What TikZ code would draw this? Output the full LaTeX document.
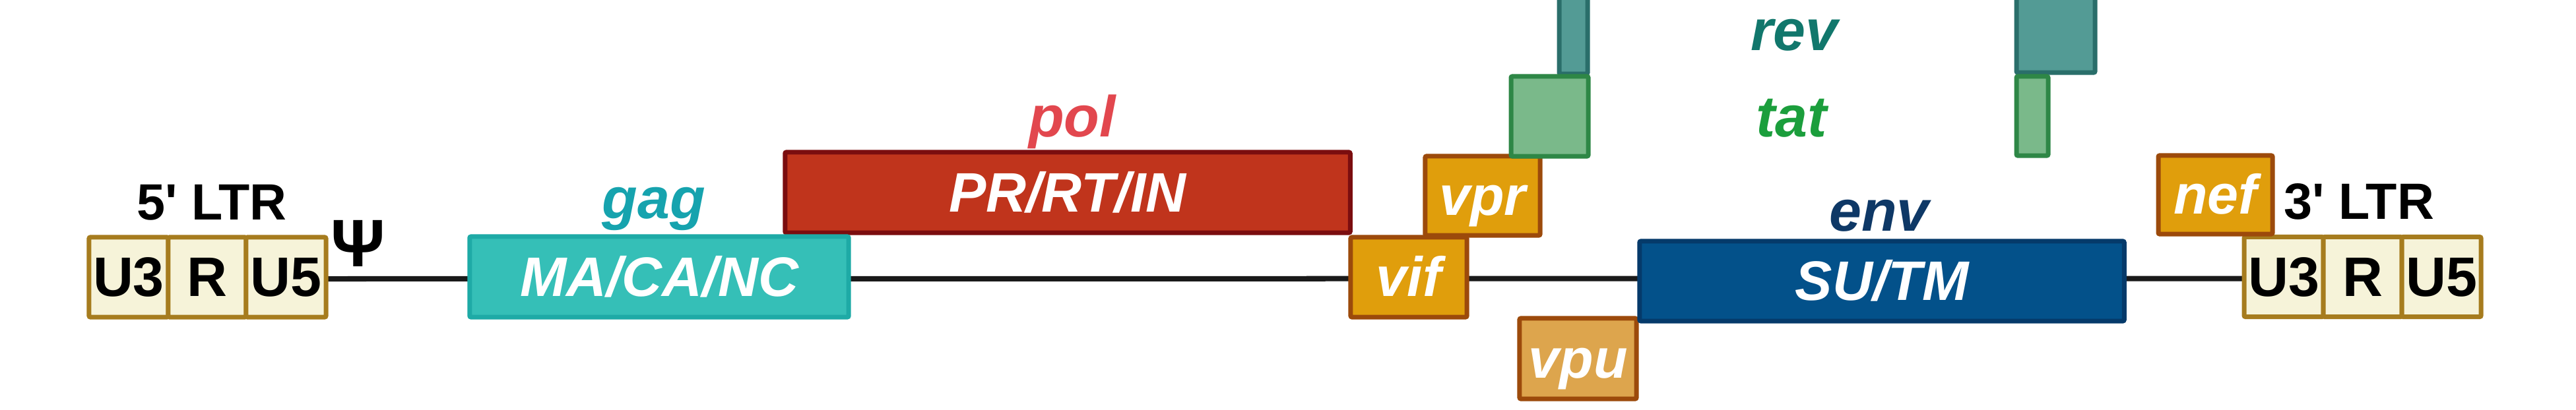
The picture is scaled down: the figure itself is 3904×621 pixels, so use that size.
\documentclass[tikz,border=0pt]{standalone}
\usepackage{fontspec}
\setmainfont{Liberation Sans}
\usetikzlibrary{backgrounds}
\definecolor{ltrF}{HTML}{F6F3D9}
\definecolor{ltrD}{HTML}{A67C1E}
\definecolor{gagF}{HTML}{35BFB7}
\definecolor{gagD}{HTML}{1EAAA6}
\definecolor{gagT}{HTML}{16A3AE}
\definecolor{polF}{HTML}{C0341C}
\definecolor{polD}{HTML}{7B0D0F}
\definecolor{polT}{HTML}{E2474E}
\definecolor{orgF}{HTML}{E09E0C}
\definecolor{orgD}{HTML}{9C4A0B}
\definecolor{vpuF}{HTML}{DDA54D}
\definecolor{envF}{HTML}{03518A}
\definecolor{envD}{HTML}{053A6A}
\definecolor{envT}{HTML}{0E3866}
\definecolor{tatF}{HTML}{7AB98A}
\definecolor{tatD}{HTML}{2E8746}
\definecolor{tatT}{HTML}{1B9E3C}
\definecolor{revF}{HTML}{539B95}
\definecolor{revD}{HTML}{2A6E6A}
\definecolor{revT}{HTML}{11776C}
\definecolor{lineC}{HTML}{1A1A1A}
\newcommand{\gbfont}{\fontsize{24}{28}\selectfont\bfseries\itshape}
\newcommand{\ltrcellfont}{\fontsize{24}{28}\selectfont\bfseries}
\newcommand{\ltrlblfont}{\fontsize{22}{26}\selectfont\bfseries}
\newcommand{\genelblfont}{\fontsize{25}{29}\selectfont\bfseries\itshape}
\begin{document}
\begin{tikzpicture}[x=0.01cm,y=-0.01cm,
  gene/.style={draw, line width=0.07cm, rounded corners=0.02cm, inner sep=0pt, outer sep=0pt,
    text=white, font=\gbfont, text height=0.58cm, text depth=0pt},
  ltrcell/.style={gene, fill=ltrF, draw=ltrD, text=black, font=\ltrcellfont, minimum height=1.21cm},
  genelbl/.style={anchor=base, inner sep=0pt, font=\genelblfont},
  ltrlbl/.style={anchor=base, inner sep=0pt, font=\ltrlblfont, text=black},
  backbone/.style={draw=lineC, line width=0.08cm}]
\useasboundingbox (0,0) rectangle (3904,621);
\clip (0,0) rectangle (3904,621);

% 5' LTR
\node[ltrcell, minimum width=1.20cm] (u3a) at (195,420.5) {U3};
\node[ltrcell, minimum width=1.18cm] (ra) at (314,420.5) {R};
\node[ltrcell, minimum width=1.21cm] (u5a) at (433.5,420.5) {U5};
\node[ltrlbl] (ltr5lbl) at (321,333) {5\textquotesingle{} LTR};
\node[anchor=base, inner sep=0pt, font=\fontsize{29}{33}\selectfont\bfseries] (psi) at (543,404) {Ψ};

% pol, gag
\node[gene, fill=polF, draw=polD, minimum width=8.56cm, minimum height=1.22cm] (pol) at (1618,292) {PR/RT/IN};
\node[genelbl, text=polT] (pollbl) at (1625,207) {pol};
\node[gene, fill=gagF, draw=gagD, minimum width=5.74cm, minimum height=1.22cm] (gag) at (999,420) {MA/CA/NC};
\node[genelbl, text=gagT] (gaglbl) at (991,331) {gag};

% accessory genes
\node[gene, fill=orgF, draw=orgD, minimum width=1.76cm, minimum height=1.21cm] (vif) at (2135,420.5) {vif};
\node[gene, fill=orgF, draw=orgD, minimum width=1.74cm, minimum height=1.20cm] (vpr) at (2247,297) {vpr};
\node[gene, fill=revF, draw=revD, minimum width=0.43cm, minimum height=1.29cm] (revL) at (2384.5,47.5) {};
\node[gene, fill=tatF, draw=tatD, minimum width=1.17cm, minimum height=1.21cm] (tatL) at (2348.5,176.5) {};
\node[gene, fill=vpuF, draw=orgD, minimum width=1.77cm, minimum height=1.22cm] (vpu) at (2391.5,544) {vpu};

% env
\node[gene, fill=envF, draw=envD, minimum width=7.34cm, minimum height=1.21cm] (env) at (2852,426.5) {SU/TM};
\node[genelbl, text=envT] (envlbl) at (2848,350) {env};

% rev / tat second exons
\node[gene, fill=revF, draw=revD, minimum width=1.19cm, minimum height=1.27cm] (revR) at (3115.5,46.5) {};
\node[gene, fill=tatF, draw=tatD, minimum width=0.48cm, minimum height=1.20cm] (tatR) at (3080,176) {};
\node[genelbl, text=revT] (revlbl) at (2719,77) {rev};
\node[genelbl, text=tatT] (tatlbl) at (2715,207) {tat};

% 3' LTR and nef
\node[ltrcell, minimum width=1.20cm] (u3b) at (3461,420) {U3};
\node[ltrcell, minimum width=1.19cm] (rb) at (3580.5,420) {R};
\node[ltrcell, minimum width=1.20cm] (u5b) at (3700,420) {U5};
\node[gene, fill=orgF, draw=orgD, minimum width=1.73cm, minimum height=1.19cm] (nef) at (3357.5,295.5) {nef};
\node[ltrlbl] (ltr3lbl) at (3575,332) {3\textquotesingle{} LTR};

\begin{scope}[on background layer]
  \fill[white] (0,0) rectangle (3904,621);
  \draw[backbone] ([yshift=-0.025cm]u5a.east) -- ([yshift=-0.025cm]u3b.west);
\end{scope}
\end{tikzpicture}
\end{document}
